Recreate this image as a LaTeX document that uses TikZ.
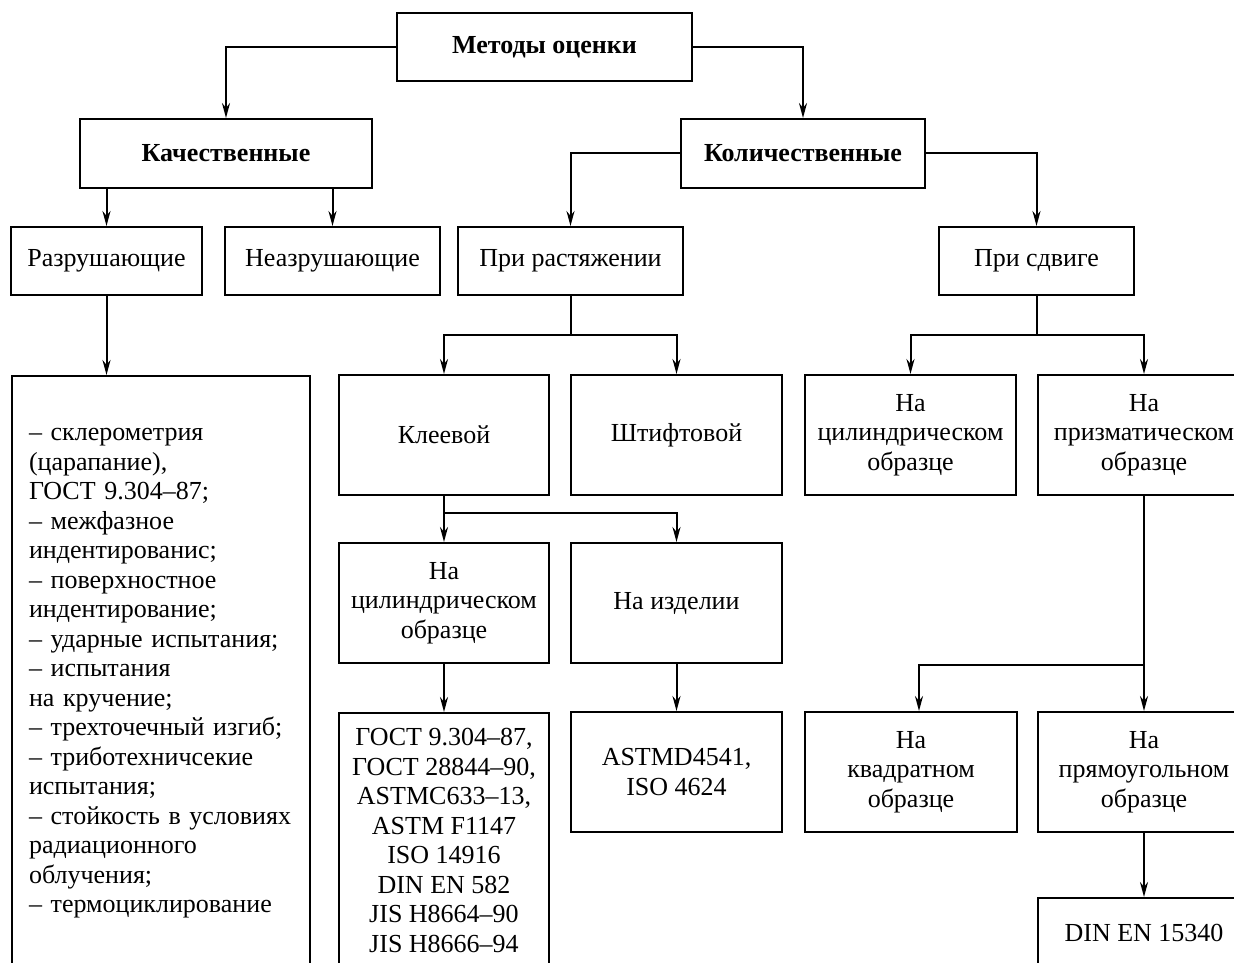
\documentclass[tikz,border=0pt]{standalone}
\usepackage{fontspec}
\setmainfont{Liberation Serif}
\usetikzlibrary{arrows.meta}
\begin{document}
\begin{tikzpicture}[x=1pt,y=-1pt,
  box/.style={draw, line width=2pt, inner sep=0pt, align=center, font=\fontsize{26}{29.5}\selectfont},
  bbox/.style={box, font=\fontsize{26}{29.5}\selectfont\bfseries},
  arr/.style={line width=2pt, -{Stealth[length=15pt,width=8pt]}},
  ln/.style={line width=2pt}]
\useasboundingbox (0,0) rectangle (1234,963);
\fill[white] (0,0) rectangle (1234,963);
\clip (0,0) rectangle (1234,963);
% top levels
\node[bbox, minimum width=295pt, minimum height=68pt] (root) at (544.5,47) {Методы оценки};
\node[bbox, minimum width=292pt, minimum height=69pt] (qual) at (226,153.5) {Качественные};
\node[bbox, minimum width=244pt, minimum height=69pt] (quant) at (803,153.5) {Количественные};
\node[box, minimum width=191pt, minimum height=68pt] (razr) at (106.5,261) {Разрушающие};
\node[box, minimum width=215pt, minimum height=68pt] (nerazr) at (332.5,261) {Неазрушающие};
\node[box, minimum width=225pt, minimum height=68pt] (rast) at (570.5,261) {При растяжении};
\node[box, minimum width=195pt, minimum height=68pt] (sdvig) at (1036.5,261) {При сдвиге};
% big list
\node[box, anchor=north west, text width=264pt, inner xsep=17pt, align=left] (big) at (11,375)
 {\rule{0pt}{64.7pt}– склерометрия\\
  (царапание),\\
  ГОСТ 9.304–87;\\
  – межфазное\\
  индентированис;\\
  – поверхностное\\
  индентирование;\\
  – ударные испытания;\\
  – испытания\\
  на кручение;\\
  – трехточечный изгиб;\\
  – триботехничсекие\\
  испытания;\\
  – стойкость в условиях\\
  радиационного\\
  облучения;\\
  – термоциклирование\rule[-80pt]{0pt}{80pt}};
% third level
\node[box, minimum width=210pt, minimum height=120pt] (kley) at (444,435) {Клеевой};
\node[box, minimum width=211pt, minimum height=120pt] (shtift) at (676.5,435) {Штифтовой};
\node[box, minimum width=211pt, minimum height=120pt] (cyl1) at (910.5,435) {На\\цилиндрическом\\образце};
\node[box, minimum width=212pt, minimum height=120pt] (prism) at (1144,435) {На\\призматическом\\образце};
\node[box, minimum width=210pt, minimum height=120pt] (cyl2) at (444,603) {На\\цилиндрическом\\образце};
\node[box, minimum width=211pt, minimum height=120pt] (izd) at (676.5,603) {На изделии};
\node[box, anchor=north, minimum width=210pt] (gost) at (444,712)
 {\rule{0pt}{32.6pt}ГОСТ 9.304–87,\\ГОСТ 28844–90,\\ASTMC633–13,\\ASTM F1147\\ISO 14916\\DIN EN 582\\JIS H8664–90\\JIS H8666–94\rule[-40pt]{0pt}{40pt}};
\node[box, minimum width=211pt, minimum height=120pt] (astm) at (676.5,772) {ASTMD4541,\\ISO 4624};
\node[box, minimum width=212pt, minimum height=120pt] (kvad) at (911,772) {На\\квадратном\\образце};
\node[box, minimum width=212pt, minimum height=120pt] (pryam) at (1144,772) {На\\прямоугольном\\образце};
\node[box, minimum width=212pt, minimum height=70pt] (din) at (1144,933) {DIN EN 15340};
% connectors
\draw[arr] (root.west) -| (qual.north);
\draw[arr] (root.east) -| (quant.north);
\draw[arr] (quant.west) -| (rast.north);
\draw[arr] (quant.east) -| (sdvig.north);
\draw[arr] (razr.north |- qual.south) -- (razr.north);
\draw[arr] (nerazr.north |- qual.south) -- (nerazr.north);
\draw[arr] (razr.south) -- (razr.south |- big.north);
\coordinate (rastbr) at (570.5,335);
\draw[ln] (rast.south) -- (rastbr);
\draw[arr] (rastbr) -| (kley.north);
\draw[arr] (rastbr) -| (shtift.north);
\coordinate (sdvigbr) at (1036.5,335);
\draw[ln] (sdvig.south) -- (sdvigbr);
\draw[arr] (sdvigbr) -| (cyl1.north);
\draw[arr] (sdvigbr) -| (prism.north);
\coordinate (kleybr) at (444,513);
\draw[arr] (kley.south) -- (cyl2.north);
\draw[arr] (kleybr) -| (izd.north);
\draw[arr] (cyl2.south) -- (gost.north);
\draw[arr] (izd.south) -- (astm.north);
\coordinate (prismbr) at (1144,665);
\draw[arr] (prism.south) -- (pryam.north);
\draw[arr] (prismbr) -| ([xshift=8pt]kvad.north);
\draw[arr] (pryam.south) -- (din.north);
\end{tikzpicture}
\end{document}
